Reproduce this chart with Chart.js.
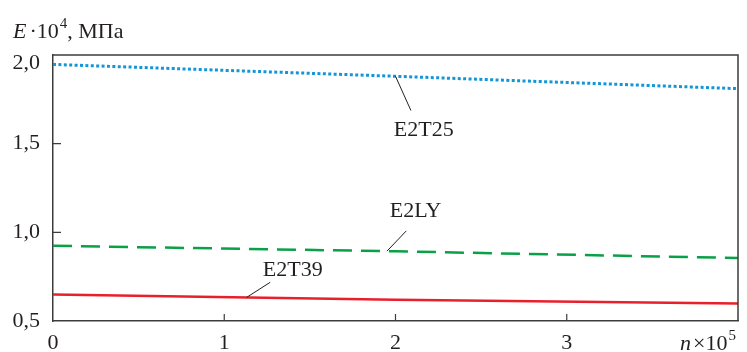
<!DOCTYPE html>
<html>
<head>
<meta charset="utf-8">
<script src="https://cdn.jsdelivr.net/npm/chart.js@4.4.0/dist/chart.umd.min.js"></script>
<style>
  html, body { margin: 0; padding: 0; background: #fff; }
  #wrap { width: 747px; height: 352px; }
</style>
</head>
<body>
<div id="wrap"><canvas id="chart"></canvas></div>
<script>
// data (n x 10^5 -> E x 10^4, MPa)
const nValues = [0, 2, 4];
const e2t25 = [1.947, 1.88, 1.81];
const e2ly = [0.924, 0.893, 0.855];
const e2t39 = [0.649, 0.62, 0.598];
const yTicks = [0.5, 1.0, 1.5, 2.0];
const xTicks = [0, 1, 2, 3, 4];
const curveNames = ["E2T25", "E2LY", "E2T39"];

const INK = "#231f20";
const AXIS = "#3c3c3c";
const FONT = "'Liberation Serif', 'Times New Roman', serif";

// callout layout in data units: anchor n on the curve, elbow, text centre
const callouts = [
    { ds: 0, anchorN: 2.0, endN: 2.09, endE: 1.687, textN: 2.165, textE: 1.578 },
    { ds: 1, anchorN: 1.95, endN: 2.063, endE: 1.008, textN: 2.117, textE: 1.12 },
    { ds: 2, anchorN: 1.13, endN: 1.268, endE: 0.718, textN: 1.40, textE: 0.786 }
];

const toPts = (ys) => nValues.map((n, i) => ({ x: n, y: ys[i] }));

// value on a curve at n, for placing the callout foot
const valueAt = (ys, n) => {
    for (let i = 0; i < nValues.length - 1; i++) {
        if (n >= nValues[i] && n <= nValues[i + 1]) {
            const t = (n - nValues[i]) / (nValues[i + 1] - nValues[i]);
            return ys[i] + t * (ys[i + 1] - ys[i]);
        }
    }
    return ys[ys.length - 1];
};

const decor = {
    id: "decor",
    afterDraw(chart) {
        const ctx = chart.ctx;
        const a = chart.chartArea;
        const xs = chart.scales.x, ys = chart.scales.y;
        ctx.save();

        // frame top + right
        ctx.strokeStyle = AXIS;
        ctx.lineWidth = 1.5;
        ctx.beginPath();
        ctx.moveTo(a.left, a.top);
        ctx.lineTo(a.right, a.top);
        ctx.lineTo(a.right, a.bottom);
        ctx.stroke();

        // inward ticks
        ctx.lineWidth = 1.2;
        ctx.beginPath();
        xTicks.forEach(v => {
            if (v === 0 || v === 4) return;
            const px = xs.getPixelForValue(v);
            ctx.moveTo(px, a.bottom);
            ctx.lineTo(px, a.bottom - 7);
        });
        yTicks.forEach(v => {
            if (v === 0.5 || v === 2.0) return;
            const py = ys.getPixelForValue(v);
            ctx.moveTo(a.left, py);
            ctx.lineTo(a.left + 8, py);
        });
        ctx.stroke();

        // y tick labels
        ctx.fillStyle = INK;
        ctx.font = "22px " + FONT;
        ctx.textAlign = "right";
        ctx.textBaseline = "middle";
        yTicks.forEach(v => {
            let py = ys.getPixelForValue(v);
            py = Math.max(py, a.top + 8);
            ctx.fillText(v.toFixed(1).replace(".", ","), 40, py);
        });

        // y title: E·10^4, МПа
        ctx.textAlign = "left";
        ctx.textBaseline = "alphabetic";
        let x = 13;
        const base = 38;
        ctx.font = "italic 22px " + FONT;
        ctx.fillText("E", x, base);
        x += ctx.measureText("E").width + 3;
        ctx.font = "22px " + FONT;
        ctx.fillText("\u00b710", x, base);
        x += ctx.measureText("\u00b710").width;
        ctx.font = "15px " + FONT;
        ctx.fillText("4", x + 1, base - 10);
        x += ctx.measureText("4").width + 1;
        ctx.font = "22px " + FONT;
        ctx.fillText(", \u041c\u041f\u0430", x, base);

        // x title: n × 10^5
        const xb = 350;
        x = 680;
        ctx.font = "italic 22px " + FONT;
        ctx.fillText("n", x, xb);
        x += ctx.measureText("n").width + 2;
        ctx.font = "22px " + FONT;
        ctx.fillText("\u00d710", x, xb);
        x += ctx.measureText("\u00d710").width;
        ctx.font = "15px " + FONT;
        ctx.fillText("5", x + 1, xb - 10);

        // callouts
        ctx.strokeStyle = INK;
        ctx.lineWidth = 1;
        ctx.font = "22px " + FONT;
        ctx.textAlign = "center";
        ctx.textBaseline = "middle";
        const series = [e2t25, e2ly, e2t39];
        callouts.forEach(c => {
            const ax = xs.getPixelForValue(c.anchorN);
            const ay = ys.getPixelForValue(valueAt(series[c.ds], c.anchorN));
            const ex = xs.getPixelForValue(c.endN);
            const ey = ys.getPixelForValue(c.endE);
            ctx.beginPath();
            ctx.moveTo(ax, ay);
            ctx.lineTo(ex, ey);
            ctx.stroke();
            ctx.fillText(curveNames[c.ds], xs.getPixelForValue(c.textN), ys.getPixelForValue(c.textE));
        });

        ctx.restore();
    }
};

new Chart(document.getElementById("chart").getContext("2d"), {
    type: "line",
    data: {
        datasets: [
            { label: curveNames[0], data: toPts(e2t25), borderColor: "#1296d8", borderWidth: 3, borderDash: [3, 2.4], pointRadius: 0 },
            { label: curveNames[1], data: toPts(e2ly), borderColor: "#0aa048", borderWidth: 2.5, borderDash: [19, 9], pointRadius: 0 },
            { label: curveNames[2], data: toPts(e2t39), borderColor: "#e8202c", borderWidth: 2.5, pointRadius: 0 }
        ]
    },
    options: {
        responsive: true,
        maintainAspectRatio: false,
        animation: false,
        layout: { padding: { top: 55, right: 1, left: 0, bottom: 0 } },
        plugins: { legend: { display: false }, tooltip: { enabled: false } },
        scales: {
            x: {
                type: "linear",
                min: 0,
                max: 4,
                afterBuildTicks: s => { s.ticks = xTicks.map(v => ({ value: v })); },
                afterFit: s => { s.height = 31; },
                ticks: {
                    callback: v => (v === 4 ? "" : String(v)),
                    color: INK,
                    font: { family: FONT, size: 22 },
                    padding: 9,
                    maxRotation: 0
                },
                grid: { display: false, drawTicks: false },
                border: { display: true, color: AXIS, width: 1.5 }
            },
            y: {
                min: 0.5,
                max: 2.0,
                afterBuildTicks: s => { s.ticks = yTicks.map(v => ({ value: v })); },
                afterFit: s => { s.width = 53; },
                ticks: { display: false },
                grid: { display: false, drawTicks: false },
                border: { display: true, color: AXIS, width: 1.5 }
            }
        }
    },
    plugins: [decor]
});
</script>
</body>
</html>
